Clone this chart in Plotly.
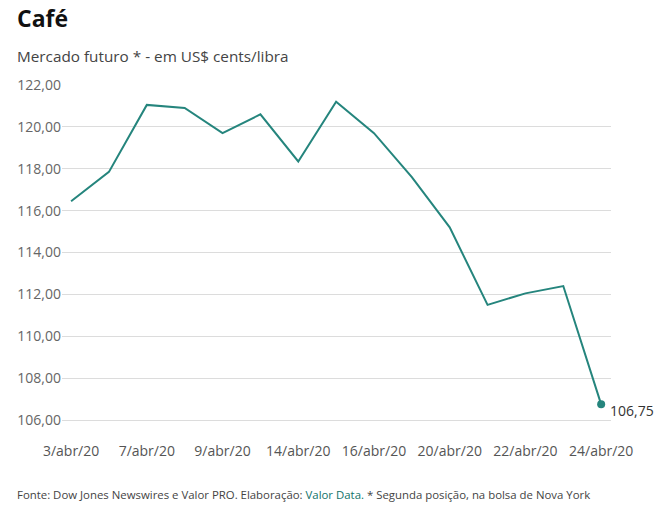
import plotly.graph_objects as go

# Coffee futures, April 2020 (US$ cents/lb), trading days only
dias = ["3/abr/20", "6/abr/20", "7/abr/20", "8/abr/20", "9/abr/20",
        "13/abr/20", "14/abr/20", "15/abr/20", "16/abr/20", "17/abr/20",
        "20/abr/20", "21/abr/20", "22/abr/20", "23/abr/20", "24/abr/20"]
precos = [116.45, 117.85, 121.05, 120.9, 119.7,
          120.6, 118.35, 121.2, 119.7, 117.6,
          115.2, 111.5, 112.05, 112.4, 106.75]

rotulos_x = ["3/abr/20", "7/abr/20", "9/abr/20", "14/abr/20",
             "16/abr/20", "20/abr/20", "22/abr/20", "24/abr/20"]
ticks_y = [106, 108, 110, 112, 114, 116, 118, 120, 122]

TEAL = "#25857d"
FONT = "Open Sans"

fig = go.Figure()
fig.add_trace(go.Scatter(
    x=dias, y=precos,
    mode="lines",
    line=dict(color=TEAL, width=2),
    hoverinfo="x+y",
))
# marker on last value
fig.add_trace(go.Scatter(
    x=[dias[-1]], y=[precos[-1]],
    mode="markers",
    marker=dict(color=TEAL, size=8),
    cliponaxis=False,
))

fig.update_layout(
    width=665, height=516,
    margin=dict(l=62, r=54, t=85, b=75),
    plot_bgcolor="white",
    paper_bgcolor="white",
    showlegend=False,
    separators=",.",
    font=dict(family=FONT, size=14, color="#666"),
    xaxis=dict(
        type="category",
        range=[-0.24, len(dias) - 1 + 0.26],
        tickvals=rotulos_x, ticktext=rotulos_x,
        showgrid=False, showline=False, zeroline=False,
        ticks="", tickfont=dict(size=14, color="#555"),
    ),
    yaxis=dict(
        range=[105, 122],
        tickvals=ticks_y, tickformat=".2f",
        showgrid=True, gridcolor="#dcdcdc", gridwidth=1,
        zeroline=False, showline=False, ticks="",
        tickfont=dict(size=14, color="#666"),
    ),
    annotations=[
        dict(text="<b>Café</b>", x=15, y=18, xref="paper", yref="paper",
             showarrow=False),
        dict(text="Mercado futuro * - em US$ cents/libra", xref="paper", yref="paper",
             x=15, y=56, showarrow=False),
        dict(text="Fonte: Dow Jones Newswires e Valor PRO. Elaboração: "
                  f"<span style='color:#11736a'>Valor Data.</span> "
                  "* Segunda posição, na bolsa de Nova York",
             xref="paper", yref="paper", x=15, y=494, showarrow=False),
    ],
)

# place header/footer texts in pixel terms
plot_w = 665 - 62 - 54
plot_h = 516 - 85 - 75
styles = [
    dict(size=23, color="#111"),
    dict(size=15.3, color="#444"),
    dict(size=11.4, color="#444"),
]
for ann, st in zip(fig.layout.annotations, styles):
    px, py = ann.x, ann.y
    ann.x = (px - 62) / plot_w
    ann.y = 1 - (py - 85) / plot_h
    ann.xanchor = "left"
    ann.yanchor = "middle"
    ann.font = dict(family=FONT, **st)

# last value label
fig.add_annotation(
    x=dias[-1], y=precos[-1], xref="x", yref="y",
    text=f"{precos[-1]:.2f}".replace(".", ","),
    showarrow=False, xanchor="left", yanchor="middle",
    xshift=7, yshift=-6,
    font=dict(family=FONT, size=14, color="#333"),
)

fig.write_html("out.html", config={"displayModeBar": False},
               post_script="document.body.style.margin='0';")
